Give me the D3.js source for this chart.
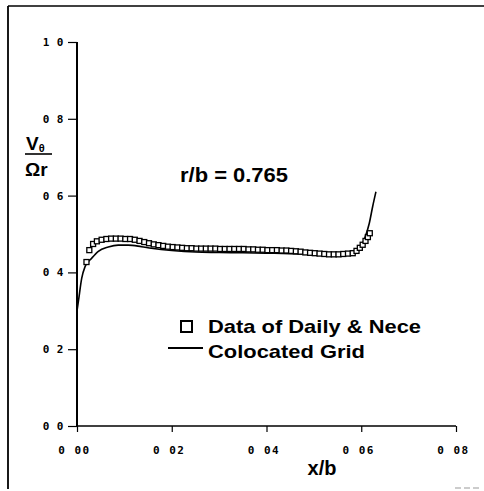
<!DOCTYPE html>
<html><head><meta charset="utf-8">
<script src="https://cdn.jsdelivr.net/npm/d3@7"></script>
<style>body{margin:0;background:#fff}svg{display:block}</style>
</head><body><svg id="c" width="484" height="491"></svg>
<script>
// data
const dataX = [0.0020,0.0026,0.0034,0.0042,0.0052,0.0062,0.0072,0.0082,0.0092,0.0102,0.0112,0.0122,0.0132,0.0142,0.0152,0.0162,0.0172,0.0182,0.0192,0.0202,0.0212,0.0222,0.0232,0.0242,0.0252,0.0262,0.0272,0.0282,0.0292,0.0302,0.0312,0.0322,0.0332,0.0342,0.0352,0.0362,0.0372,0.0382,0.0392,0.0402,0.0412,0.0422,0.0432,0.0442,0.0452,0.0462,0.0472,0.0482,0.0492,0.0502,0.0512,0.0522,0.0532,0.0542,0.0552,0.0562,0.0572,0.0582,0.0590,0.0597,0.0603,0.0609,0.0614,0.0618];
const dataY = [0.427,0.458,0.474,0.481,0.485,0.487,0.488,0.488,0.488,0.487,0.487,0.485,0.482,0.479,0.476,0.473,0.471,0.469,0.467,0.466,0.465,0.464,0.463,0.463,0.462,0.462,0.462,0.462,0.462,0.461,0.461,0.461,0.461,0.461,0.461,0.460,0.460,0.459,0.459,0.458,0.458,0.458,0.457,0.457,0.456,0.455,0.454,0.452,0.451,0.450,0.449,0.448,0.447,0.447,0.447,0.448,0.449,0.450,0.456,0.464,0.472,0.482,0.492,0.502];
const gridX = [0,0.0003,0.001,0.0017,0.0031,0.0045,0.0066,0.0087,0.0108,0.0136,0.0157,0.02,0.025,0.03,0.035,0.04,0.045,0.05,0.054,0.057,0.0585,0.0596,0.0606,0.0617,0.0624,0.0631];
const gridY = [0.30,0.325,0.385,0.415,0.437,0.455,0.466,0.471,0.471,0.467,0.463,0.457,0.453,0.452,0.451,0.450,0.449,0.447,0.445,0.446,0.450,0.458,0.484,0.528,0.571,0.610];
const xTicks = [0,0.02,0.04,0.06,0.08];
const xTickLabels = ["0 00","0 02","0 04","0 06","0 08"];
const yTicks = [0,0.2,0.4,0.6,0.8,1.0];
const yTickLabels = ["0 0","0 2","0 4","0 6","0 8","1 0"];
const legendLabels = ["Data of Daily & Nece","Colocated Grid"];
const annotation = "r/b = 0.765";

const svg = d3.select("#c");
const x = d3.scaleLinear().domain([0,0.08]).range([77,456]);
const y = d3.scaleLinear().domain([0,1]).range([426,42]);

// frame (top + left)
svg.append("line").attr("x1",8).attr("y1",6).attr("x2",484).attr("y2",6).attr("stroke","#000").attr("stroke-width",1.5);
svg.append("line").attr("x1",8).attr("y1",6).attr("x2",8).attr("y2",489).attr("stroke","#000").attr("stroke-width",1.8);
svg.append("line").attr("x1",455).attr("y1",488).attr("x2",482).attr("y2",488).attr("stroke","#999").attr("stroke-width",1).attr("stroke-dasharray","6,3");

const mono = "'DejaVu Sans Mono', monospace";
const sans = "'Liberation Sans', Arial, sans-serif";

// y axis
const yAxis = d3.axisLeft(y).tickValues(yTicks).tickSize(9).tickPadding(4)
  .tickFormat((d,i)=>yTickLabels[i]);
const gy = svg.append("g").attr("transform","translate(77,0)").call(yAxis);
gy.select(".domain").attr("stroke","#000").attr("stroke-width",2).attr("d","M0,42V426");
gy.selectAll(".tick line").attr("stroke","#000").attr("stroke-width",1.2);
gy.selectAll(".tick text").attr("font-family",mono).attr("font-size",11).attr("font-weight","bold")
  .attr("letter-spacing",0.5).attr("fill","#000");

// x axis
const xAxis = d3.axisBottom(x).tickValues(xTicks).tickSize(6).tickPadding(14)
  .tickFormat((d,i)=>xTickLabels[i]);
const gx = svg.append("g").attr("transform","translate(0,426)").call(xAxis);
gx.select(".domain").attr("stroke","#000").attr("stroke-width",1.3).attr("d","M77,0H456");
gx.selectAll(".tick line").attr("stroke","#000").attr("stroke-width",1.2);
gx.selectAll(".tick text").attr("font-family",mono).attr("font-size",11).attr("font-weight","bold")
  .attr("letter-spacing",1.5).attr("dx",-3).attr("fill","#000");

// line
const pts = gridX.map((d,i)=>[d,gridY[i]]);
svg.append("path").datum(pts)
  .attr("d", d3.line().x(d=>x(d[0])).y(d=>y(d[1])).curve(d3.curveMonotoneX))
  .attr("fill","none").attr("stroke","#000").attr("stroke-width",1.6);

// squares
const sq = 5;
svg.append("g").selectAll("rect").data(dataX.map((d,i)=>[d,dataY[i]])).join("rect")
  .attr("x",d=>x(d[0])-sq/2).attr("y",d=>y(d[1])-sq/2).attr("width",sq).attr("height",sq)
  .attr("fill","#fff").attr("stroke","#000").attr("stroke-width",1.3);

// annotation
svg.append("text").attr("x",180).attr("y",182).attr("font-family",sans).attr("font-weight","bold")
  .attr("font-size",20).attr("textLength",108).attr("lengthAdjust","spacingAndGlyphs").text(annotation);

// legend
svg.append("rect").attr("x",181).attr("y",321).attr("width",11).attr("height",11)
  .attr("fill","#fff").attr("stroke","#000").attr("stroke-width",2);
svg.append("text").attr("x",208).attr("y",333).attr("font-family",sans).attr("font-weight","bold")
  .attr("font-size",19).attr("textLength",213).attr("lengthAdjust","spacingAndGlyphs").text(legendLabels[0]);
svg.append("line").attr("x1",168).attr("x2",203).attr("y1",348).attr("y2",348).attr("stroke","#000").attr("stroke-width",2);
svg.append("text").attr("x",208).attr("y",358).attr("font-family",sans).attr("font-weight","bold")
  .attr("font-size",19).attr("textLength",157).attr("lengthAdjust","spacingAndGlyphs").text(legendLabels[1]);

// x label
svg.append("text").attr("x",322).attr("y",475).attr("text-anchor","middle").attr("font-family",sans)
  .attr("font-weight","bold").attr("font-size",20).text("x/b");

// y label fraction
const yl = svg.append("text").attr("x",26).attr("y",150).attr("font-family",sans).attr("font-weight","bold").attr("font-size",19);
yl.append("tspan").text("V");
yl.append("tspan").attr("font-size",11).attr("dy",2).text("θ");
svg.append("line").attr("x1",25).attr("x2",52).attr("y1",154).attr("y2",154).attr("stroke","#000").attr("stroke-width",1.6);
svg.append("text").attr("x",25).attr("y",176).attr("font-family",sans).attr("font-weight","bold")
  .attr("font-size",19).text("Ωr");
</script></body></html>
